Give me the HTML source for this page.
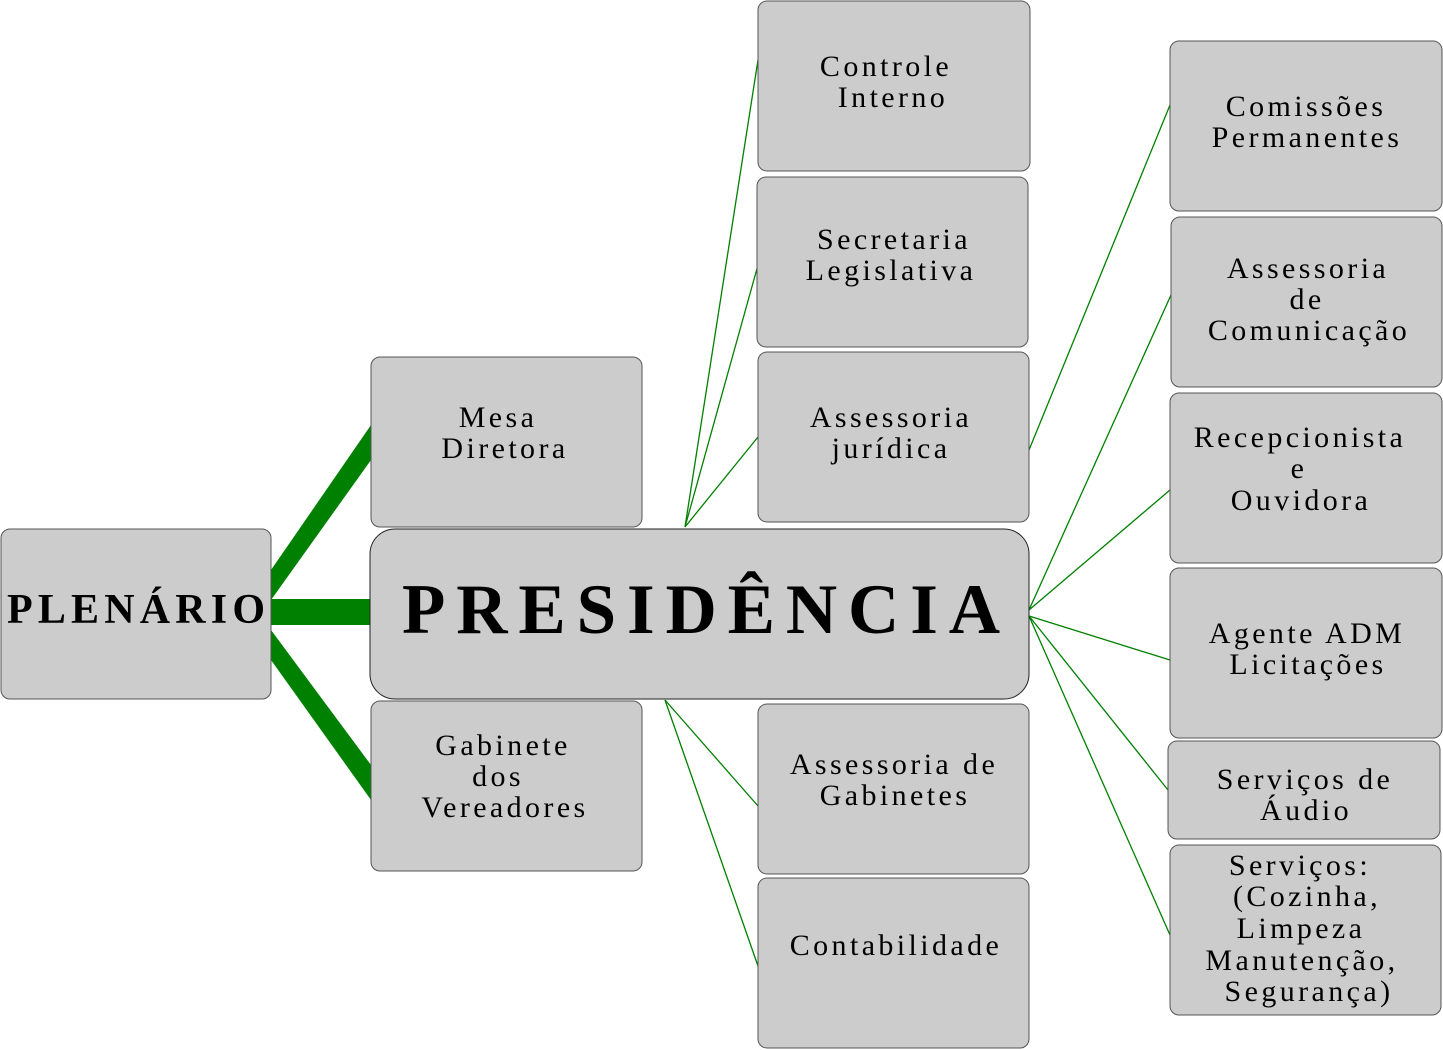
<!DOCTYPE html>
<html><head><meta charset="utf-8"><style>
html,body{margin:0;padding:0;background:#fff;width:1443px;height:1050px;overflow:hidden}
svg{display:block}
</style></head><body>
<svg width="1443" height="1050" viewBox="0 0 1443 1050" xmlns="http://www.w3.org/2000/svg">
<g stroke="#008000" stroke-width="1.3" fill="none">
<line x1="685" y1="527" x2="758" y2="60"/>
<line x1="685" y1="527" x2="758" y2="265"/>
<line x1="685" y1="527" x2="758" y2="437"/>
<line x1="665" y1="700" x2="758" y2="806"/>
<line x1="665" y1="700" x2="758" y2="966"/>
<line x1="1029" y1="450" x2="1170" y2="105"/>
<line x1="1029" y1="610" x2="1171" y2="295"/>
<line x1="1029" y1="610" x2="1170" y2="490"/>
<line x1="1029" y1="616" x2="1170" y2="660"/>
<line x1="1029" y1="616" x2="1168" y2="790"/>
<line x1="1029" y1="616" x2="1170" y2="935"/>
</g>
<g fill="#008000">
<polygon points="271,570 371,425 371,460 271,600"/>
<rect x="271" y="599" width="100" height="26"/>
<polygon points="271,630 371,765 371,800 271,660"/>
</g>
<g fill="#cccccc" stroke="#555" stroke-width="1">
<rect x="1" y="529" width="270" height="170" rx="9"/>
<rect x="371" y="357" width="271" height="170" rx="9"/>
<rect x="371" y="701" width="271" height="170" rx="9"/>
<rect x="370" y="529" width="659" height="170" rx="25" stroke="#222"/>
<rect x="758" y="1" width="272" height="170" rx="9"/>
<rect x="757" y="177" width="271" height="170" rx="9"/>
<rect x="758" y="352" width="271" height="170" rx="9"/>
<rect x="758" y="704" width="271" height="170" rx="9"/>
<rect x="758" y="878" width="271" height="170" rx="9"/>
<rect x="1170" y="41" width="272" height="170" rx="9"/>
<rect x="1171" y="217" width="271" height="170" rx="9"/>
<rect x="1170" y="393" width="272" height="170" rx="9"/>
<rect x="1170" y="568" width="272" height="170" rx="9"/>
<rect x="1168" y="741" width="272" height="98" rx="9"/>
<rect x="1170" y="845" width="271" height="170" rx="9"/>
</g>
<g style="font-family:'Liberation Serif',serif;font-weight:bold" fill="#000">
<text x="7" y="623" font-size="42" textLength="258" lengthAdjust="spacing">PLENÁRIO</text>
<text x="402" y="633" font-size="71" textLength="598" lengthAdjust="spacing">PRESIDÊNCIA</text>
</g>
<g style="font-family:'Liberation Serif',serif;font-weight:normal;font-style:normal;font-size:30px;letter-spacing:3.4px" text-anchor="middle" fill="#000">
<text x="886" y="76">Controle</text>
<text x="893" y="107">Interno</text>
<text x="894" y="249">Secretaria</text>
<text x="891" y="280">Legislativa</text>
<text x="891" y="427">Assessoria</text>
<text x="891" y="458">jurídica</text>
<text x="498" y="427">Mesa</text>
<text x="505" y="458">Diretora</text>
<text x="503" y="755">Gabinete</text>
<text x="498" y="786">dos</text>
<text x="505" y="817">Vereadores</text>
<text x="894" y="774">Assessoria de</text>
<text x="895" y="805">Gabinetes</text>
<text x="896" y="955">Contabilidade</text>
<text x="1306" y="116">Comissões</text>
<text x="1307" y="147">Permanentes</text>
<text x="1308" y="278">Assessoria</text>
<text x="1307" y="309">de</text>
<text x="1309" y="340">Comunicação</text>
<text x="1300" y="447">Recepcionista</text>
<text x="1299" y="478">e</text>
<text x="1301" y="510">Ouvidora</text>
<text x="1307" y="643">Agente ADM</text>
<text x="1308" y="674">Licitações</text>
<text x="1305" y="789">Serviços de</text>
<text x="1306" y="820">Áudio</text>
<text x="1300" y="875">Serviços:</text>
<text x="1307" y="906">(Cozinha,</text>
<text x="1301" y="938">Limpeza</text>
<text x="1302" y="970">Manutenção,</text>
<text x="1309" y="1001">Segurança)</text>
</g>
</svg>
</body></html>
